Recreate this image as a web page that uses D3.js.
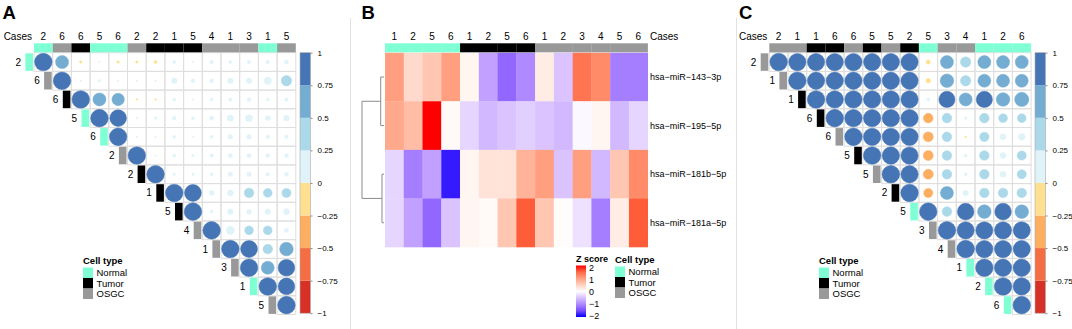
<!DOCTYPE html>
<html>
<head>
<meta charset="utf-8">
<script src="https://cdn.jsdelivr.net/npm/d3@7"></script>
<style>
body { margin: 0; background: #fff; }
text { font-family: "Liberation Sans", Arial, sans-serif; fill: #000; }
</style>
</head>
<body>
<div id="fig"></div>
<script>
// ---- data ----
var cellTypes = ["Normal", "Tumor", "OSGC"];
var typeColours = ["#7FFFD4", "#000000", "#999999"];

// panel A
var casesA = ["2","6","6","5","6","2","2","1","5","4","1","3","1","5"];
var typesA = ["Normal","OSGC","Tumor","Normal","Normal","OSGC","Tumor","Tumor","Tumor","OSGC","OSGC","OSGC","Normal","OSGC"];
// upper triangle, each row starts at the diagonal
var corrA = [
    [1, 0.55, -0.02, 0.01, -0.02, -0.02, -0.03, 0.03, 0.01, 0.04, 0.03, 0.04, 0.04, 0.06],
    [1, 0.01, 0.02, 0.01, 0.01, 0.01, 0.1, 0.05, 0.05, 0.1, 0.1, 0.18, 0.35],
    [1, 0.55, 0.5, -0.01, -0.01, 0.03, 0.01, 0.03, 0.04, 0.05, 0.03, 0.04],
    [1, 0.9, 0.01, 0.02, 0.05, 0.03, 0.06, 0.13, 0.16, 0.08, 0.1],
    [1, 0.01, 0.01, 0.03, 0.01, 0.03, 0.07, 0.07, 0.04, 0.04],
    [1, 0.01, 0.03, 0.02, 0.04, 0.06, 0.06, 0.05, 0.05],
    [1, 0.02, 0.02, 0.03, 0.06, 0.06, 0.04, 0.05],
    [1, 0.92, 0.08, 0.12, 0.3, 0.25, 0.27],
    [1, 0.03, 0.1, 0.08, 0.1, 0.12],
    [1, 0.22, 0.25, 0.25, 0.06],
    [1, 0.92, 0.3, 0.6],
    [1, 0.55, 0.9],
    [1, 0.9],
    [1]
];

// panel B
var casesB = ["1","2","5","6","1","2","5","6","1","2","3","4","5","6"];
var typesB = ["Normal","Normal","Normal","Normal","Tumor","Tumor","Tumor","Tumor","OSGC","OSGC","OSGC","OSGC","OSGC","OSGC"];
var mirnas = ["hsa\u2212miR\u2212143\u22123p", "hsa\u2212miR\u2212195\u22125p", "hsa\u2212miR\u2212181b\u22125p", "hsa\u2212miR\u2212181a\u22125p"];
var zScores = [
    [1.0, 0.4, 0.6, 1.0, 0.1, -0.8, -1.3, -1.0, 0.2, -0.5, 1.4, 1.2, -1.1, -1.1],
    [0.9, 0.7, 2.0, 0.05, -0.35, -0.6, -0.5, -0.4, -0.5, -0.6, -0.05, 0.1, -0.6, -0.35],
    [-0.35, -1.1, -0.8, -1.9, 0.1, 0.3, 0.3, 0.8, 1.0, -0.5, 1.0, -0.6, 0.6, 1.2],
    [-0.35, -0.8, -1.3, -0.5, 0.1, 0.05, 0.6, 1.6, 0.6, 0.02, -0.25, -1.1, 0.2, 1.6]
];
// row dendrogram: merges of row pairs and their heights
var dendroMerges = [
    { rows: [0, 1], h: 0.9 },
    { rows: [2, 3], h: 0.55 }
];
var dendroTop = 6;
var zTicks = [2, 1, 0, -1, -2];

// panel C
var casesC = ["2","1","1","6","6","5","5","2","5","3","4","1","2","6"];
var typesC = ["OSGC","OSGC","Tumor","Tumor","OSGC","Tumor","OSGC","Tumor","Normal","OSGC","OSGC","Normal","Normal","Normal"];
var corrC = [
    [1, 0.97, 0.97, 0.97, 0.97, 0.97, 0.97, 0.97, -0.06, 0.55, 0.35, 0.55, 0.55, 0.55],
    [1, 0.97, 0.97, 0.97, 0.97, 0.97, 0.97, -0.07, 0.6, 0.35, 0.55, 0.55, 0.55],
    [1, 0.97, 0.97, 0.97, 0.97, 0.97, 0.03, 0.85, 0.55, 0.85, 0.6, 0.65],
    [1, 0.98, 0.97, 0.97, 0.97, -0.3, 0.3, 0.02, 0.3, 0.25, 0.25],
    [1, 0.98, 0.97, 0.97, -0.32, 0.3, -0.01, 0.28, 0.12, 0.15],
    [1, 0.98, 0.97, -0.32, 0.3, 0.03, 0.3, 0.12, 0.27],
    [1, 0.97, -0.32, 0.3, 0.03, 0.3, 0.12, 0.27],
    [1, -0.27, 0.55, 0.1, 0.3, 0.3, 0.3],
    [1, 0.3, 0.9, 0.6, 0.9, 0.6],
    [1, 0.95, 0.95, 0.95, 0.95],
    [1, 0.96, 0.96, 0.96],
    [1, 0.97, 0.97],
    [1, 0.97],
    [1]
];

var corrTicks = [1, 0.75, 0.5, 0.25, 0, -0.25, -0.5, -0.75, -1];
var corrColours = ["#D73027", "#F46D43", "#FDAE61", "#FEE090", "#E0F3F8", "#ABD9E9", "#74ADD1", "#4575B4"];

// ---- drawing ----
var svg = d3.select("#fig").append("svg")
    .attr("width", 1072)
    .attr("height", 329);

var typeColour = d3.scaleOrdinal().domain(cellTypes).range(typeColours);
var corrColour = d3.scaleThreshold()
    .domain([-0.75, -0.5, -0.25, 0, 0.25, 0.5, 0.75])
    .range(corrColours);

// panel separators
svg.append("line").attr("x1", 350.5).attr("x2", 350.5).attr("y1", 18).attr("y2", 329)
    .attr("stroke", "#e2e2e2");
svg.append("line").attr("x1", 736.5).attr("x2", 736.5).attr("y1", 18).attr("y2", 329)
    .attr("stroke", "#e2e2e2");

function panelLetter(x, label) {
    svg.append("text").attr("x", x).attr("y", 18.5)
        .style("font-size", "18.5px").style("font-weight", "bold")
        .text(label);
}

function cellLegend(x, y) {
    var g = svg.append("g");
    g.append("text").attr("x", x).attr("y", y)
        .style("font-size", "9.5px").style("font-weight", "bold")
        .text("Cell type");
    cellTypes.forEach(function(t, k) {
        g.append("rect")
            .attr("x", x).attr("y", y + 3.5 + k * 10.5)
            .attr("width", 10).attr("height", 10.5)
            .attr("fill", typeColour(t));
        g.append("text")
            .attr("x", x + 13.5).attr("y", y + 8.8 + k * 10.5)
            .attr("dy", "0.35em")
            .style("font-size", "9.5px")
            .text(t);
    });
}

function corrPanel(cfg) {
    var n = cfg.cases.length;
    var cw = 18.7;
    var x = d3.scaleBand().domain(d3.range(n)).range([cfg.x0, cfg.x0 + n * cw]);
    var y = d3.scaleBand().domain(d3.range(n)).range([cfg.y0, cfg.y0 + n * cw]);
    var r = d3.scaleSqrt().domain([0, 1]).range([0, cw * 0.47]);
    var g = svg.append("g");

    var cells = [];
    cfg.vals.forEach(function(row, i) {
        row.forEach(function(v, k) {
            cells.push({ i: i, j: i + k, v: v });
        });
    });

    g.selectAll("rect.cell").data(cells).enter().append("rect")
        .attr("class", "cell")
        .attr("x", d => x(d.j)).attr("y", d => y(d.i))
        .attr("width", cw).attr("height", cw)
        .attr("fill", "none").attr("stroke", "#dedede");

    g.selectAll("circle").data(cells).enter().append("circle")
        .attr("cx", d => x(d.j) + cw / 2)
        .attr("cy", d => y(d.i) + cw / 2)
        .attr("r", d => r(Math.abs(d.v)))
        .attr("fill", d => corrColour(d.v))
        .attr("stroke", d => corrColour(d.v))
        .attr("stroke-width", 0.5);

    // top annotation
    g.selectAll("rect.top").data(cfg.types).enter().append("rect")
        .attr("class", "top")
        .attr("x", (d, j) => x(j)).attr("y", cfg.y0 - 9.4)
        .attr("width", cw).attr("height", 9)
        .attr("fill", d => typeColour(d));
    g.selectAll("text.top").data(cfg.cases).enter().append("text")
        .attr("class", "top")
        .attr("x", (d, j) => x(j) + cw / 2).attr("y", 40)
        .attr("text-anchor", "middle")
        .style("font-size", "10px")
        .text(d => d);
    g.append("text").attr("x", cfg.x0 - 2).attr("y", 40)
        .attr("text-anchor", "end").style("font-size", "10px")
        .text("Cases");

    // row annotation along the diagonal
    g.selectAll("rect.side").data(cfg.types).enter().append("rect")
        .attr("class", "side")
        .attr("x", (d, i) => x(i) - 8.6).attr("y", (d, i) => y(i) + 0.6)
        .attr("width", 7.6).attr("height", cw - 1.2)
        .attr("fill", d => typeColour(d));
    g.selectAll("text.side").data(cfg.cases).enter().append("text")
        .attr("class", "side")
        .attr("x", (d, i) => x(i) - 13).attr("y", (d, i) => y(i) + cw / 2)
        .attr("dy", "0.35em").attr("text-anchor", "end")
        .style("font-size", "10px")
        .text(d => d);

    // colour key
    var cy = d3.scaleLinear().domain([-1, 1]).range([cfg.y0 + 260.5, cfg.y0]);
    var bins = d3.range(-1, 1, 0.25);
    g.selectAll("rect.key").data(bins).enter().append("rect")
        .attr("class", "key")
        .attr("x", cfg.keyX).attr("y", d => cy(d + 0.25))
        .attr("width", 10.5).attr("height", d => cy(d) - cy(d + 0.25))
        .attr("fill", d => corrColour(d + 0.125));
    g.append("rect").attr("x", cfg.keyX).attr("y", cfg.y0)
        .attr("width", 10.5).attr("height", 260.5)
        .attr("fill", "none").attr("stroke", "#aaa").attr("stroke-width", 0.6);
    var axis = g.append("g")
        .attr("transform", "translate(" + (cfg.keyX + 10.5) + ",0)")
        .call(d3.axisRight(cy).tickValues(corrTicks).tickSize(2).tickPadding(5)
            .tickFormat(d => d3.format("")(d).replace("-", "\u2212")));
    axis.select(".domain").remove();
    axis.selectAll("line").attr("stroke", "#888");
    axis.selectAll("text").style("font-size", "8px")
        .style("font-family", "'Liberation Sans', Arial, sans-serif");

    cellLegend(cfg.legendX, 264);
}

// ---- panel A ----
panelLetter(2.5, "A");
corrPanel({ x0: 34, y0: 52.7, cases: casesA, types: typesA, vals: corrA, keyX: 300, legendX: 83 });

// ---- panel C ----
panelLetter(739, "C");
corrPanel({ x0: 769.3, y0: 52.7, cases: casesC, types: typesC, vals: corrC, keyX: 1035, legendX: 819 });

// ---- panel B ----
panelLetter(361.5, "B");
(function() {
    var g = svg.append("g");
    var x = d3.scaleBand().domain(d3.range(casesB.length)).range([385, 647.7]);
    var y = d3.scaleBand().domain(d3.range(mirnas.length)).range([52.7, 247]);
    var zColour = d3.scaleLinear().domain([-2, 0, 2])
        .range(["#0000FF", "#FFFFFF", "#FF0000"])
        .interpolate(d3.interpolateLab);

    var cells = [];
    zScores.forEach(function(row, i) {
        row.forEach(function(v, j) { cells.push({ i: i, j: j, v: v }); });
    });
    g.selectAll("rect.cell").data(cells).enter().append("rect")
        .attr("class", "cell")
        .attr("x", d => x(d.j)).attr("y", d => y(d.i))
        .attr("width", x.bandwidth() + 0.3).attr("height", y.bandwidth() + 0.3)
        .attr("fill", d => zColour(d.v));

    g.selectAll("rect.top").data(typesB).enter().append("rect")
        .attr("class", "top")
        .attr("x", (d, j) => x(j)).attr("y", 43.3)
        .attr("width", x.bandwidth() + 0.2).attr("height", 9)
        .attr("fill", d => typeColour(d));
    g.selectAll("text.top").data(casesB).enter().append("text")
        .attr("class", "top")
        .attr("x", (d, j) => x(j) + x.bandwidth() / 2).attr("y", 40)
        .attr("text-anchor", "middle").style("font-size", "10px")
        .text(d => d);
    g.append("text").attr("x", 650).attr("y", 40).style("font-size", "10px").text("Cases");

    g.selectAll("text.row").data(mirnas).enter().append("text")
        .attr("class", "row")
        .attr("x", 650).attr("y", (d, i) => y(i) + y.bandwidth() / 2)
        .attr("dy", "0.35em").style("font-size", "9px")
        .text(d => d);

    // dendrogram
    var hx = d3.scaleLinear().domain([0, dendroTop]).range([384, 362]);
    var mid = i => y(i) + y.bandwidth() / 2;
    var line = g.append("g").attr("fill", "none").attr("stroke", "#8c8c8c").attr("stroke-width", 1);
    var nodeY = dendroMerges.map(function(m) {
        var a = mid(m.rows[0]), b = mid(m.rows[1]);
        line.append("path").attr("d",
            "M" + hx(0) + "," + a + "H" + hx(m.h) + "V" + b + "H" + hx(0));
        return (a + b) / 2;
    });
    line.append("path").attr("d",
        "M" + hx(dendroMerges[0].h) + "," + nodeY[0] + "H" + hx(dendroTop) +
        "V" + nodeY[1] + "H" + hx(dendroMerges[1].h));

    // z score key
    var zy = d3.scaleLinear().domain([-2, 2]).range([315.5, 268]);
    var grad = svg.append("defs").append("linearGradient")
        .attr("id", "zgrad").attr("x1", 0).attr("x2", 0).attr("y1", 0).attr("y2", 1);
    d3.range(2, -2.01, -0.5).forEach(function(v, k, arr) {
        grad.append("stop").attr("offset", (k / (arr.length - 1) * 100) + "%")
            .attr("stop-color", zColour(v));
    });
    g.append("text").attr("x", 576).attr("y", 261.5)
        .style("font-size", "9px").style("font-weight", "bold").text("Z score");
    g.append("rect").attr("x", 576).attr("y", 265.5).attr("width", 10).attr("height", 51.5)
        .attr("fill", "url(#zgrad)");
    g.selectAll("text.zt").data(zTicks).enter().append("text")
        .attr("class", "zt")
        .attr("x", 589).attr("y", d => zy(d)).attr("dy", "0.35em")
        .style("font-size", "9px")
        .text(d => d < 0 ? "\u2212" + Math.abs(d) : d);

    cellLegend(615, 263);
})();
</script>
</body>
</html>
